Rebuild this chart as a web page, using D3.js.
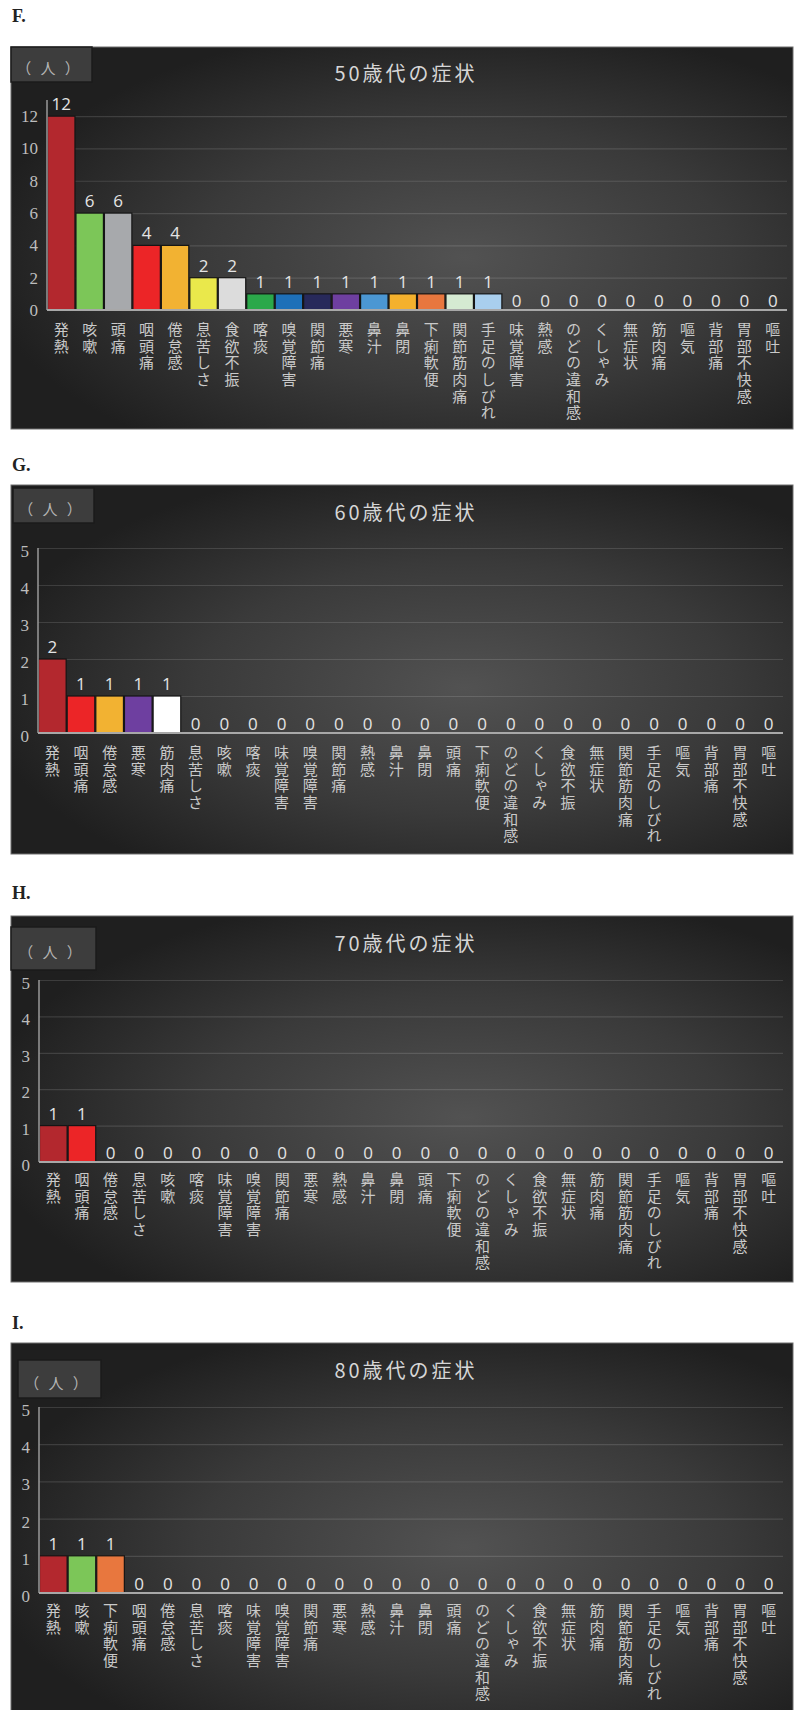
<!DOCTYPE html>
<html>
<head>
<meta charset="utf-8">
<script src="https://cdn.jsdelivr.net/npm/d3@7"></script>
<style>
  html, body { margin: 0; padding: 0; background: #ffffff; }
  svg { display: block; }
</style>
</head>
<body>
<svg id="fig" width="795" height="1710"></svg>
<script>
// ---- 50歳代 ----
const symptoms50 = ["発熱","咳嗽","頭痛","咽頭痛","倦怠感","息苦しさ","食欲不振","喀痰","嗅覚障害","関節痛","悪寒","鼻汁","鼻閉","下痢軟便","関節筋肉痛","手足のしびれ","味覚障害","熱感","のどの違和感","くしゃみ","無症状","筋肉痛","嘔気","背部痛","胃部不快感","嘔吐"];
const counts50 = [12,6,6,4,4,2,2,1,1,1,1,1,1,1,1,1,0,0,0,0,0,0,0,0,0,0];
const ticks50 = [0,2,4,6,8,10,12];

// ---- 60歳代 ----
const symptoms60 = ["発熱","咽頭痛","倦怠感","悪寒","筋肉痛","息苦しさ","咳嗽","喀痰","味覚障害","嗅覚障害","関節痛","熱感","鼻汁","鼻閉","頭痛","下痢軟便","のどの違和感","くしゃみ","食欲不振","無症状","関節筋肉痛","手足のしびれ","嘔気","背部痛","胃部不快感","嘔吐"];
const counts60 = [2,1,1,1,1,0,0,0,0,0,0,0,0,0,0,0,0,0,0,0,0,0,0,0,0,0];
const ticks60 = [0,1,2,3,4,5];

// ---- 70歳代 ----
const symptoms70 = ["発熱","咽頭痛","倦怠感","息苦しさ","咳嗽","喀痰","味覚障害","嗅覚障害","関節痛","悪寒","熱感","鼻汁","鼻閉","頭痛","下痢軟便","のどの違和感","くしゃみ","食欲不振","無症状","筋肉痛","関節筋肉痛","手足のしびれ","嘔気","背部痛","胃部不快感","嘔吐"];
const counts70 = [1,1,0,0,0,0,0,0,0,0,0,0,0,0,0,0,0,0,0,0,0,0,0,0,0,0];
const ticks70 = [0,1,2,3,4,5];

// ---- 80歳代 ----
const symptoms80 = ["発熱","咳嗽","下痢軟便","咽頭痛","倦怠感","息苦しさ","喀痰","味覚障害","嗅覚障害","関節痛","悪寒","熱感","鼻汁","鼻閉","頭痛","のどの違和感","くしゃみ","食欲不振","無症状","筋肉痛","関節筋肉痛","手足のしびれ","嘔気","背部痛","胃部不快感","嘔吐"];
const counts80 = [1,1,1,0,0,0,0,0,0,0,0,0,0,0,0,0,0,0,0,0,0,0,0,0,0,0];
const ticks80 = [0,1,2,3,4,5];

// Bar colour for each symptom
const symptomColor = {
  "発熱": "#b3282e", "咳嗽": "#7cc658", "頭痛": "#a7a9ac", "咽頭痛": "#ec2527",
  "倦怠感": "#f2b232", "息苦しさ": "#eae84b", "食欲不振": "#dcdcdc", "喀痰": "#2ba84a",
  "嗅覚障害": "#1e70b8", "関節痛": "#27295a", "悪寒": "#6e3fa0", "鼻汁": "#4b97d3",
  "鼻閉": "#f4b12d", "下痢軟便": "#e8773e", "関節筋肉痛": "#d5ead2", "手足のしびれ": "#a9cfee",
  "筋肉痛": "#ffffff"
};

const charts = [
  { letter: "F.", title: "50歳代の症状", names: symptoms50, values: counts50, ticks: ticks50, yMax: 13,
    letterY: 22, top: 47, bottom: 429, unit: [11, 47, 81, 35], titleY: 81,
    axisX: 47, right: 787, y0: 310, yTop: 100, labelGap: 12 },
  { letter: "G.", title: "60歳代の症状", names: symptoms60, values: counts60, ticks: ticks60, yMax: 5,
    letterY: 471, top: 485, bottom: 854, unit: [13, 488, 81, 35], titleY: 520,
    axisX: 38, right: 783, y0: 733, yTop: 548, labelGap: 12 },
  { letter: "H.", title: "70歳代の症状", names: symptoms70, values: counts70, ticks: ticks70, yMax: 5,
    letterY: 899, top: 916, bottom: 1282, unit: [11, 927, 85, 43], titleY: 951,
    axisX: 39, right: 783, y0: 1162, yTop: 980, labelGap: 10 },
  { letter: "I.", title: "80歳代の症状", names: symptoms80, values: counts80, ticks: ticks80, yMax: 5,
    letterY: 1329, top: 1343, bottom: 1714, unit: [18, 1360, 83, 38], titleY: 1378,
    axisX: 39, right: 783, y0: 1593, yTop: 1407, labelGap: 10 }
];

const svg = d3.select("#fig");
const defs = svg.append("defs");

// Dark chart-area fill, brighter towards the middle
const grad = defs.append("radialGradient").attr("id", "panelBg")
  .attr("cx", "58%").attr("cy", "55%").attr("r", "62%");
grad.append("stop").attr("offset", "0%").attr("stop-color", "#525252");
grad.append("stop").attr("offset", "55%").attr("stop-color", "#3a3a3a");
grad.append("stop").attr("offset", "100%").attr("stop-color", "#1f1f1f");

const panelLeft = 11, panelRight = 793;
const intFormat = d3.format("d");

charts.forEach(c => {
  const g = svg.append("g");

  // Panel letter
  g.append("text")
    .attr("x", 12).attr("y", c.letterY)
    .attr("font-family", "'Liberation Serif', 'DejaVu Serif', serif")
    .attr("font-weight", "bold").attr("font-size", 18).attr("fill", "#222")
    .text(c.letter);

  // Chart background
  g.append("rect")
    .attr("x", panelLeft).attr("y", c.top)
    .attr("width", panelRight - panelLeft).attr("height", c.bottom - c.top)
    .attr("fill", "url(#panelBg)")
    .attr("stroke", "#6e6e6e").attr("stroke-width", 1);

  // Unit box
  const [ux, uy, uw, uh] = c.unit;
  g.append("rect").attr("x", ux).attr("y", uy).attr("width", uw).attr("height", uh)
    .attr("fill", "#3d3d3d").attr("stroke", "#1b1b1b").attr("stroke-width", 1.5);
  g.append("text")
    .attr("x", ux + uw / 2 - 2).attr("y", uy + uh / 2 + 3)
    .attr("text-anchor", "middle").attr("dominant-baseline", "central")
    .attr("font-family", "'Noto Sans CJK JP', sans-serif")
    .attr("font-size", 15).attr("fill", "#b4b4b4")
    .attr("letter-spacing", 3)
    .text("（ 人 ）");

  // Title
  g.append("text")
    .attr("x", (panelLeft + panelRight) / 2 + 4).attr("y", c.titleY)
    .attr("text-anchor", "middle")
    .attr("font-family", "'Noto Sans CJK JP', sans-serif")
    .attr("font-size", 20).attr("fill", "#d6d6d6")
    .attr("letter-spacing", 3)
    .text(c.title);

  // Scales
  const x = d3.scaleBand().domain(c.names).range([c.axisX, c.right]).paddingInner(0).paddingOuter(0);
  const y = d3.scaleLinear().domain([0, c.yMax]).range([c.y0, c.yTop]);

  // Gridlines
  const grid = g.append("g").attr("transform", `translate(${c.axisX},0)`)
    .call(d3.axisLeft(y).tickValues(c.ticks.filter(t => t > 0)).tickSize(-(c.right - c.axisX)).tickFormat(""));
  grid.select(".domain").remove();
  grid.selectAll("line").attr("stroke", "rgba(255,255,255,0.13)").attr("stroke-width", 1.2);

  // Y-axis labels
  const yAxis = g.append("g").attr("transform", `translate(${c.axisX - 9},0)`)
    .call(d3.axisLeft(y).tickValues(c.ticks).tickFormat(intFormat).tickSize(0).tickPadding(0));
  yAxis.select(".domain").remove();
  yAxis.selectAll("text")
    .attr("font-family", "'Liberation Serif', 'DejaVu Serif', serif")
    .attr("font-size", 17).attr("fill", "#bdbdbd")
    .attr("dy", c.yMax > 6 ? "0.32em" : "0.5em");

  // Bars
  const data = c.names.map((n, i) => ({ name: n, value: c.values[i] }));
  g.append("g").selectAll("rect")
    .data(data.filter(d => d.value > 0))
    .join("rect")
    .attr("x", d => x(d.name) + 0.5)
    .attr("y", d => y(d.value))
    .attr("width", x.bandwidth() - 1)
    .attr("height", d => y(0) - y(d.value))
    .attr("fill", d => symptomColor[d.name] || "#888")
    .attr("stroke", "#151515").attr("stroke-width", 1.2);

  // Axis lines
  g.append("line").attr("x1", c.axisX).attr("x2", c.axisX)
    .attr("y1", y(c.yMax)).attr("y2", y(0))
    .attr("stroke", "#9a9a9a").attr("stroke-width", 1.5);
  g.append("line").attr("x1", c.axisX).attr("x2", c.right)
    .attr("y1", y(0)).attr("y2", y(0))
    .attr("stroke", "#a8a8a8").attr("stroke-width", 1.8);

  // Value labels
  g.append("g").selectAll("text")
    .data(data)
    .join("text")
    .attr("x", d => x(d.name) + x.bandwidth() / 2)
    .attr("y", d => y(d.value) - (d.value > 0 ? 6 : 3))
    .attr("text-anchor", "middle")
    .attr("font-family", "'Open Sans', 'Noto Sans', sans-serif")
    .attr("font-size", 17).attr("fill", "#e4e4e4")
    .text(d => d.value);

  // Category labels (vertical)
  g.append("g").selectAll("text")
    .data(data)
    .join("text")
    .attr("x", d => x(d.name) + x.bandwidth() / 2)
    .attr("y", y(0) + c.labelGap)
    .style("writing-mode", "vertical-rl")
    .style("text-orientation", "upright")
    .attr("font-family", "'Noto Sans CJK JP', sans-serif")
    .attr("font-size", 15).attr("fill", "#c9c9c9")
    .attr("letter-spacing", 1.6)
    .text(d => d.name);
});
</script>
</body>
</html>
